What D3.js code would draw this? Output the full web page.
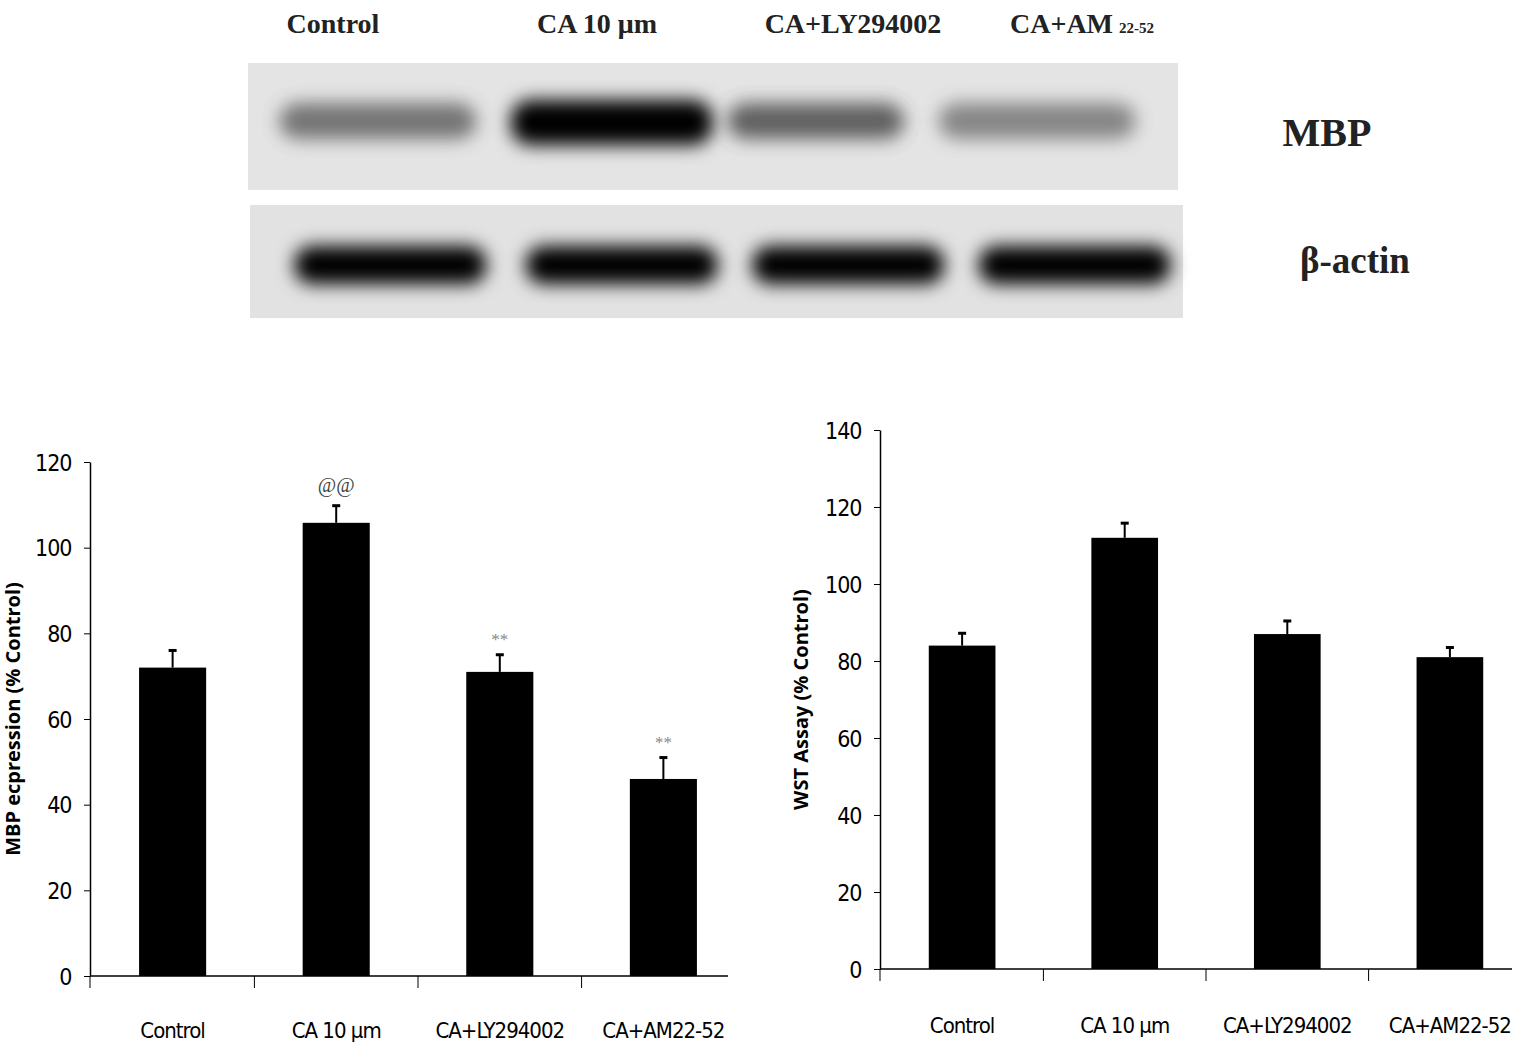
<!DOCTYPE html>
<html><head><meta charset="utf-8">
<script src="https://cdn.jsdelivr.net/npm/d3@7"></script>
<style>body{margin:0;background:#fff}svg{display:block}</style>
</head><body>
<script>
const categories = ["Control","CA 10 µm","CA+LY294002","CA+AM22-52"];
const mbpValues = [72, 105.8, 71, 46];
const mbpErrors = [4, 4, 4, 5];
const mbpMarks = ["", "@@", "**", "**"];
const wstValues = [84, 112, 87, 81];
const wstErrors = [3.2, 3.8, 3.4, 2.5];
const mbpTicks = [0,20,40,60,80,100,120];
const wstTicks = [0,20,40,60,80,100,120,140];
const blotLanes = ["Control","CA 10 μm","CA+LY294002","CA+AM"];
const mbpBandDensity = [0.75, 1, 0.8, 0.7];
const actinBandDensity = [1, 1, 1, 1];

const svg = d3.select("body").append("svg").attr("width",1515).attr("height",1046);
const defs = svg.append("defs");
defs.append("filter").attr("id","blur").attr("x","-30%").attr("y","-80%").attr("width","160%").attr("height","260%")
  .append("feGaussianBlur").attr("stdDeviation",9);

// Blot
const lane = d3.scaleBand().domain(blotLanes).range([250,1180]).padding(0.2);
svg.append("rect").attr("x",248).attr("y",63).attr("width",930).attr("height",127).attr("fill","#e4e4e4");
svg.append("rect").attr("x",250).attr("y",205).attr("width",933).attr("height",113).attr("fill","#e2e2e2");
const mbpOff=[-15,-5,-10,-20], mbpW=[20,25,0,20];
svg.append("g").selectAll("rect").data(blotLanes).join("rect")
  .attr("x",(d,i)=>lane(d)+mbpOff[i]).attr("y",(d,i)=>i==1?100:103)
  .attr("width",(d,i)=>lane.bandwidth()+mbpW[i]).attr("height",(d,i)=>i==1?45:36).attr("rx",20)
  .attr("fill",(d,i)=>d3.interpolateGreys(mbpBandDensity[i])).attr("opacity",(d,i)=>mbpBandDensity[i])
  .attr("filter","url(#blur)");
svg.append("g").selectAll("rect").data(blotLanes).join("rect")
  .attr("x",(d,i)=>lane(d)+[0,10,15,20][i]).attr("y",246)
  .attr("width",lane.bandwidth()+15).attr("height",38).attr("rx",18)
  .attr("fill","#000").attr("opacity",(d,i)=>actinBandDensity[i]).attr("filter","url(#blur)");
const blotText = svg.append("g").attr("font-family","Liberation Serif").attr("font-weight","bold").attr("fill","#222");
blotText.selectAll("text").data(blotLanes).join("text")
  .attr("x",(d,i)=>[333,597,853,1090][i]).attr("y",33).attr("text-anchor","middle").attr("font-size",28)
  .each(function(d,i){const t=d3.select(this).text(d);
    if(i==3){t.attr("text-anchor","start").attr("x",1010);t.append("tspan").attr("font-size",15).attr("dx",6).text("22-52");}});
blotText.append("text").attr("x",1327).attr("y",146).attr("text-anchor","middle").attr("font-size",40).text("MBP");
blotText.append("text").attr("x",1355).attr("y",273).attr("text-anchor","middle").attr("font-size",37).text("β-actin");

function chart(opt){
  const g = svg.append("g");
  const y = d3.scaleLinear().domain([0,opt.max]).range([opt.y0,opt.y1]);
  const x = d3.scaleBand().domain(categories).range([opt.x0,opt.x1]).paddingInner(0.59).paddingOuter(0.3);
  const font = "'DejaVu Sans Condensed','Liberation Sans Narrow',sans-serif";
  const ya = g.append("g").attr("transform",`translate(${opt.x0},0)`)
    .call(d3.axisLeft(y).tickValues(opt.ticks).tickSize(6).tickSizeOuter(0));
  ya.selectAll("text").attr("font-family",font).attr("font-size",22).attr("fill","#000").attr("dx",-2).attr("dy","0.36em")
    .attr("transform","scale(0.85,1.1)").attr("x",-14/0.85).attr("y",0).each(function(){});
  ya.selectAll(".tick text").attr("transform",null).attr("font-size",23).attr("letter-spacing",-1);
  ya.select(".domain").attr("stroke-width",1.5);
  const xa = g.append("g").attr("transform",`translate(0,${opt.y0})`)
    .call(d3.axisBottom(x).tickSize(0).tickSizeOuter(0));
  xa.select(".domain").remove();
  g.append("line").attr("x1",opt.x0).attr("x2",opt.axisEnd).attr("y1",opt.y0).attr("y2",opt.y0).attr("stroke","#000").attr("stroke-width",1.5);
  xa.selectAll("text").attr("font-family",font).attr("font-size",22).attr("letter-spacing",-1).attr("fill","#000").attr("dy",0).attr("y",opt.labelDy);
  const step = x.step();
  g.append("g").selectAll("line").data(categories).join("line")
    .attr("x1",(d,i)=>i==0?opt.x0:x(d)-x.paddingInner()*step/2).attr("x2",(d,i)=>i==0?opt.x0:x(d)-x.paddingInner()*step/2)
    .attr("y1",opt.y0).attr("y2",opt.y0+12).attr("stroke","#000");
  g.append("g").selectAll("line").data(categories).join("line")
    .attr("x1",d=>x(d)+x.bandwidth()/2).attr("x2",d=>x(d)+x.bandwidth()/2)
    .attr("y1",(d,i)=>y(opt.vals[i])).attr("y2",(d,i)=>y(opt.vals[i]+opt.errs[i])).attr("stroke","#000").attr("stroke-width",2);
  g.append("g").selectAll("line").data(categories).join("line")
    .attr("x1",d=>x(d)+x.bandwidth()/2-4).attr("x2",d=>x(d)+x.bandwidth()/2+4)
    .attr("y1",(d,i)=>y(opt.vals[i]+opt.errs[i])).attr("y2",(d,i)=>y(opt.vals[i]+opt.errs[i])).attr("stroke","#000").attr("stroke-width",3);
  g.append("g").selectAll("rect").data(categories).join("rect")
    .attr("x",d=>x(d)).attr("width",x.bandwidth())
    .attr("y",(d,i)=>y(opt.vals[i])).attr("height",(d,i)=>opt.y0-y(opt.vals[i])).attr("fill","#000");
  if(opt.marks) g.append("g").selectAll("text").data(categories).join("text")
    .attr("x",d=>x(d)+x.bandwidth()/2).attr("y",(d,i)=>y(opt.vals[i]+opt.errs[i])-(i==1?14:10))
    .attr("text-anchor","middle").attr("font-family","Liberation Serif").attr("font-size",(d,i)=>i==1?20:17)
    .attr("fill",(d,i)=>i==1?"#444":"#888").text((d,i)=>opt.marks[i]);
  g.append("text").attr("transform",`translate(${opt.titleX},${(opt.y0+opt.y1)/2}) rotate(-90)`)
    .attr("text-anchor","middle").attr("font-family","'Open Sans',sans-serif").attr("font-weight","bold")
    .attr("font-size",20).attr("fill","#000").text(opt.title);
}
chart({x0:90,x1:746,axisEnd:728,y0:976,y1:462,max:120,ticks:mbpTicks,vals:mbpValues,errs:mbpErrors,marks:mbpMarks,
  title:"MBP ecpression (% Control)",titleX:20,labelDy:62});
chart({x0:880,x1:1532,axisEnd:1512,y0:969,y1:430,max:140,ticks:wstTicks,vals:wstValues,errs:wstErrors,marks:null,
  title:"WST Assay (% Control)",titleX:808,labelDy:64});
</script>
</body></html>
